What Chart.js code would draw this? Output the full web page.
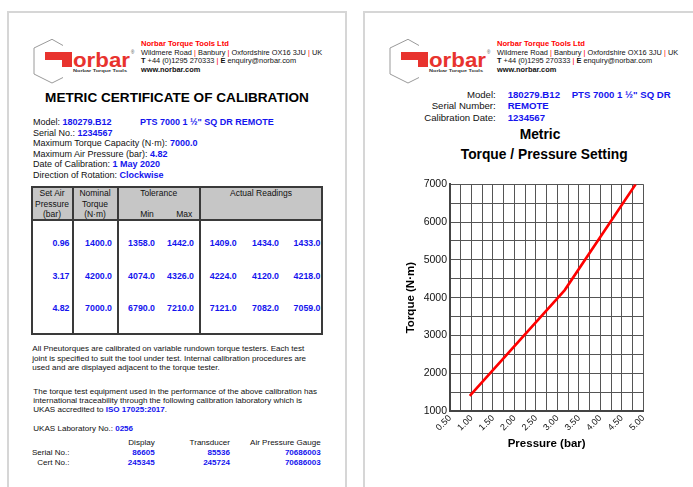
<!DOCTYPE html>
<html>
<head>
<meta charset="utf-8">
<script src="https://cdn.jsdelivr.net/npm/chart.js@4/dist/chart.umd.min.js"></script>
<style>
  html, body { margin: 0; padding: 0; background: #fff; }
  #page { position: relative; width: 693px; height: 487px; overflow: hidden; background: #fff; }
  .sheet { position: absolute; top: 11px; width: 340px; height: 520px; border: 2px solid #d6d6d6; box-sizing: border-box; background: #fff; }
  .t { position: absolute; white-space: nowrap; line-height: 1; font-family: "Liberation Sans", Arial, sans-serif; color: #111; }
  .b { font-weight: bold; color: #1414ee; }
  .k { font-weight: bold; color: #000; }
  .r { color: #f00; }
  .line { position: absolute; background: #3a3a3a; }
  #chart { position: absolute; left: 400px; top: 175px; }
</style>
</head>
<body>
<div id="page">
  <div class="sheet" style="left:7px"></div>
  <div class="sheet" style="left:363px"></div>
  <canvas id="chart" width="253" height="280"></canvas>
</div>
<script>
// calibration points (right page chart)
var pressure = [0.96, 3.17, 4.82];
var torque = [1400, 4200, 7000];

// table on the left page
var setPressure = ['0.96', '3.17', '4.82'];
var nominal = ['1400.0', '4200.0', '7000.0'];
var tolMin = ['1358.0', '4074.0', '6790.0'];
var tolMax = ['1442.0', '4326.0', '7210.0'];
var readings = [
  ['1409.0', '1434.0', '1433.0'],
  ['4224.0', '4120.0', '4218.0'],
  ['7121.0', '7082.0', '7059.0'],
];

var W = 693;
var page = document.getElementById('page');

function put(html, x, cy, fs, align, cls) {
  var d = document.createElement('div');
  d.className = 't ' + (cls || '');
  d.innerHTML = html;
  d.style.fontSize = fs + 'px';
  d.style.top = (cy - fs * 0.5) + 'px';
  if (align === 'r') d.style.right = (W - x) + 'px';
  else if (align === 'c') { d.style.left = x + 'px'; d.style.transform = 'translateX(-50%)'; }
  else d.style.left = x + 'px';
  page.appendChild(d);
}

function box(x, y, w, h, bg) {
  var d = document.createElement('div');
  d.className = 'line';
  d.style.left = x + 'px'; d.style.top = y + 'px';
  d.style.width = w + 'px'; d.style.height = h + 'px';
  if (bg) d.style.background = bg;
  page.appendChild(d);
}

function header(dx) {
  var s = document.createElementNS('http://www.w3.org/2000/svg', 'svg');
  s.setAttribute('width', 105); s.setAttribute('height', 48);
  s.style.position = 'absolute'; s.style.left = (33 + dx) + 'px'; s.style.top = '38px';
  s.innerHTML =
    '<polyline points="30,7.5 19,1.3 1,10 1,36 19,45 30,39.5" fill="none" stroke="#9a9a9a" stroke-width="1"/>' +
    '<rect x="12" y="14" width="27" height="8" fill="#e8332e"/>' +
    '<rect x="29" y="14" width="10" height="15" fill="#e8332e"/>' +
    '<text transform="translate(40,29) scale(1,1.45)" font-family="Liberation Sans" font-size="14" font-weight="bold" fill="#e8332e" textLength="57" lengthAdjust="spacingAndGlyphs">orbar</text>' +
    '<text x="40" y="33.8" font-family="Liberation Sans" font-size="4.3" font-weight="bold" fill="#333" textLength="54" lengthAdjust="spacingAndGlyphs">Norbar Torque Tools</text>' +
    '<text x="98" y="16" font-family="Liberation Sans" font-size="4.5" fill="#444">®</text>';
  page.appendChild(s);
  var x = 141 + dx;
  put('<span style="font-weight:bold;color:#f00">Norbar Torque Tools Ltd</span>', x, 43.3, 7.6);
  put('Wildmere Road <span class="r">|</span> Banbury <span class="r">|</span> Oxfordshire OX16 3JU <span class="r">|</span> UK', x, 52.3, 7.4);
  put('<b>T</b> +44 (0)1295 270333 <span class="r">|</span> <b>E</b> enquiry@norbar.com', x, 61, 7.4);
  put('<b>www.norbar.com</b>', x, 69.5, 7.4);
}

// ---------- left page ----------
header(0);
put('METRIC CERTIFICATE OF CALIBRATION', 177, 98, 13.6, 'c', 'k');

put('Model: <span class="b">180279.B12</span>', 33, 122.3, 9);
put('PTS 7000 1 ½" SQ DR REMOTE', 140, 122.3, 9, 'l', 'b');
put('Serial No.: <span class="b">1234567</span>', 33, 133, 9);
put('Maximum Torque Capacity (N·m): <span class="b">7000.0</span>', 33, 143.5, 9);
put('Maximum Air Pressure (bar): <span class="b">4.82</span>', 33, 154, 9);
put('Date of Calibration: <span class="b">1 May 2020</span>', 33, 164.5, 9);
put('Direction of Rotation: <span class="b">Clockwise</span>', 33, 175, 9);

// table frame
box(31, 186, 292, 34, '#c6c6c6');
box(31, 186, 292, 2);
box(31, 219, 292, 2);
box(31, 333, 292, 2);
box(31, 186, 2, 149);
box(321, 186, 2, 149);
box(71.7, 186, 2, 149);
box(116.5, 186, 2, 149);
box(199, 186, 2, 149);

var hf = 8.5;
put('Set Air', 52, 193.3, hf, 'c');
put('Pressure', 52, 204, hf, 'c');
put('(bar)', 52, 214.3, hf, 'c');
put('Nominal', 95, 193.3, hf, 'c');
put('Torque', 95, 204, hf, 'c');
put('(N·m)', 95, 214.3, hf, 'c');
put('Tolerance', 158.7, 193.3, hf, 'c');
put('Min', 147, 214.3, hf, 'c');
put('Max', 184.3, 214.3, hf, 'c');
put('Actual Readings', 261, 193.3, hf, 'c');

var rowY = [243, 276, 308];
var colR = [69.5, 112, 155, 194, 236.7, 279, 320.5];
for (var i = 0; i < 3; i++) {
  var cells = [setPressure[i], nominal[i], tolMin[i], tolMax[i]].concat(readings[i]);
  for (var j = 0; j < cells.length; j++) put(cells[j], colR[j], rowY[i], 8.8, 'r', 'b');
}

var pf = 8.05;
put('All Pneutorques are calibrated on variable rundown torque testers. Each test', 32.3, 349.3, pf);
put('joint is specified to suit the tool under test. Internal calibration procedures are', 32.3, 359, pf);
put('used and are displayed adjacent to the torque tester.', 32.3, 368.5, pf);
put('The torque test equipment used in the performance of the above calibration has', 33.3, 391.7, pf);
put('international traceability through the following calibration laboratory which is', 33.3, 401, pf);
put('UKAS accredited to <span class="b">ISO 17025:2017</span>.', 33.3, 410.3, pf);
put('UKAS Laboratory No.: <span class="b">0256</span>', 33.3, 429, pf);

put('Display', 154.7, 443.3, pf, 'r');
put('Transducer', 230, 443.3, pf, 'r');
put('Air Pressure Gauge', 320.7, 443.3, pf, 'r');
put('Serial No.:', 32, 453.3, pf);
put('86605', 154.7, 453.3, pf, 'r', 'b');
put('85536', 230, 453.3, pf, 'r', 'b');
put('70686003', 320.7, 453.3, pf, 'r', 'b');
put('Cert No.:', 37.3, 462.7, pf);
put('245345', 154.7, 462.7, pf, 'r', 'b');
put('245724', 230, 462.7, pf, 'r', 'b');
put('70686003', 320.7, 462.7, pf, 'r', 'b');

// ---------- right page ----------
header(356);
put('Model:', 495.7, 95, 9.6, 'r');
put('Serial Number:', 495.7, 106, 9.6, 'r');
put('Calibration Date:', 495.7, 117.3, 9.6, 'r');
put('180279.B12', 507.7, 95, 9.6, 'l', 'b');
put('PTS 7000 1 ½" SQ DR', 571.7, 95, 9.6, 'l', 'b');
put('REMOTE', 507.7, 106, 9.6, 'l', 'b');
put('1234567', 507.7, 117.3, 9.6, 'l', 'b');
put('Metric', 540, 135, 13.8, 'c', 'k');
put('Torque / Pressure Setting', 544.2, 155, 13.8, 'c', 'k');

Chart.defaults.font.family = '"Liberation Sans", Arial, sans-serif';

var points = pressure.map(function (p, i) { return { x: p, y: torque[i] }; });

var config = {
  type: 'line',
  data: {
    datasets: [
      {
        data: points,
        borderColor: '#ff0000',
        borderWidth: 2.6,
        pointRadius: 0,
        fill: false,
        tension: 0,
      },
    ],
  },
  options: {
    responsive: false,
    animation: false,
    devicePixelRatio: 1,
    layout: { padding: { top: 8, right: 5, left: 0, bottom: 0 } },
    plugins: { legend: { display: false }, tooltip: { enabled: false } },
    scales: {
      x: {
        type: 'linear',
        min: 0.5,
        max: 5,
        afterFit: function (s) { s.height = 44; },
        ticks: {
          stepSize: 0.25,
          autoSkip: false,
          minRotation: 45,
          maxRotation: 45,
          padding: 2,
          color: '#111',
          font: { size: 9 },
          callback: function (v) {
            return Math.abs(v * 2 - Math.round(v * 2)) < 1e-6 ? v.toFixed(2) : '';
          },
        },
        grid: { color: '#555', drawTicks: false },
        border: { color: '#444', width: 2 },
        title: { display: true, text: 'Pressure (bar)', color: '#000', font: { size: 11.5, weight: 'bold' } },
      },
      y: {
        min: 1000,
        max: 7000,
        afterFit: function (s) { s.width = 50; },
        ticks: {
          stepSize: 500,
          padding: 3,
          color: '#111',
          font: { size: 10.5 },
          callback: function (v) { return v % 1000 === 0 ? v : ''; },
        },
        grid: { color: '#555', drawTicks: false },
        border: { color: '#444', width: 2 },
        title: { display: true, text: 'Torque (N·m)', color: '#000', font: { size: 11.5, weight: 'bold' } },
      },
    },
  },
};

var myChart = new Chart(document.getElementById('chart'), config);
</script>
</body>
</html>
